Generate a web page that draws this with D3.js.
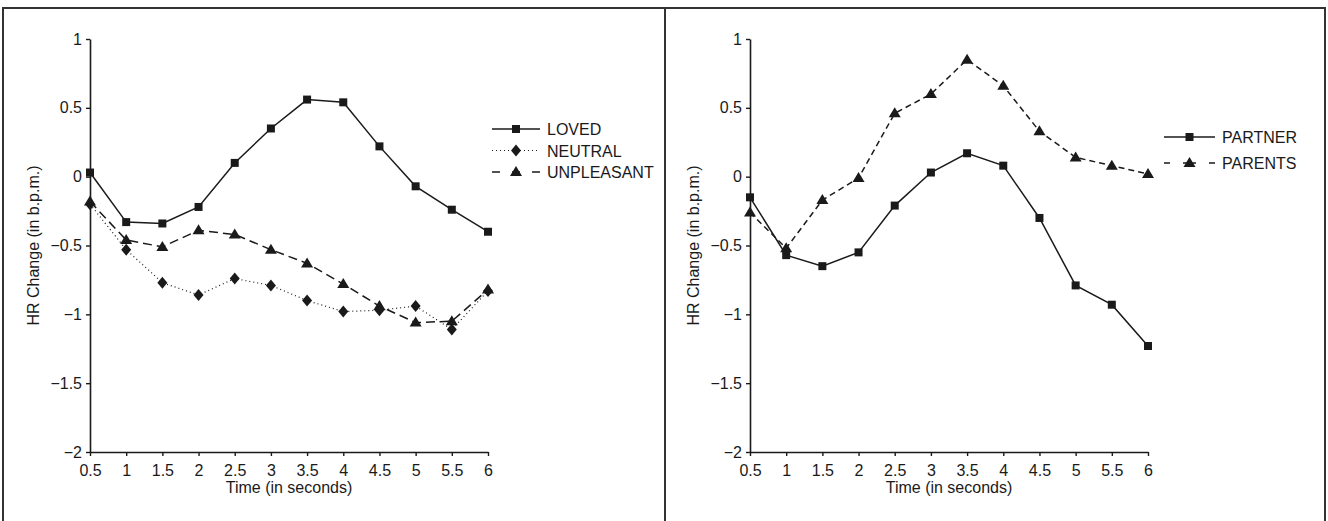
<!DOCTYPE html>
<html>
<head>
<meta charset="utf-8">
<script src="https://cdn.jsdelivr.net/npm/d3@7"></script>
<style>
  body { margin: 0; background: #fff; }
  text { font-family: "Liberation Sans", Arial, sans-serif; fill: #1a1a1a; }
</style>
</head>
<body>
<svg id="chart" width="1328" height="521"></svg>
<script>
// time points (seconds)
var times = [0.5, 1, 1.5, 2, 2.5, 3, 3.5, 4, 4.5, 5, 5.5, 6];
var xTicks = [0.5, 1, 1.5, 2, 2.5, 3, 3.5, 4, 4.5, 5, 5.5, 6];
var yTicks = [1, 0.5, 0, -0.5, -1, -1.5, -2];

// left panel
var loved      = [0.03, -0.33, -0.34, -0.22, 0.10, 0.35, 0.56, 0.54, 0.22, -0.07, -0.24, -0.40];
var neutral    = [-0.20, -0.53, -0.77, -0.86, -0.74, -0.79, -0.90, -0.98, -0.97, -0.94, -1.11, -0.83];
var unpleasant = [-0.18, -0.46, -0.51, -0.39, -0.42, -0.53, -0.63, -0.78, -0.94, -1.06, -1.05, -0.82];

// right panel
var partner = [-0.15, -0.57, -0.65, -0.55, -0.21, 0.03, 0.17, 0.08, -0.30, -0.79, -0.93, -1.23];
var parents = [-0.26, -0.52, -0.17, -0.01, 0.46, 0.60, 0.85, 0.66, 0.33, 0.14, 0.08, 0.02];

var svg = d3.select("#chart");
var ink = "#1a1a1a";
var fs = 16;

// frame
svg.append("line").attr("x1", 3).attr("x2", 1326).attr("y1", 8).attr("y2", 8)
  .attr("stroke", "#333").attr("stroke-width", 2);
[3, 665, 1325].forEach(function (x) {
  svg.append("line").attr("x1", x).attr("x2", x).attr("y1", 7).attr("y2", 521)
    .attr("stroke", "#333").attr("stroke-width", 2);
});

function marker(g, shape, x, y) {
  if (shape === "square") {
    g.append("rect").attr("x", x - 4).attr("y", y - 4).attr("width", 8).attr("height", 8)
      .attr("fill", ink);
  } else if (shape === "diamond") {
    g.append("path").attr("d", `M${x},${y - 6}L${x + 5},${y}L${x},${y + 6}L${x - 5},${y}Z`)
      .attr("fill", ink);
  } else {
    g.append("path").attr("d", `M${x},${y - 6}L${x + 6},${y + 4}L${x - 6},${y + 4}Z`)
      .attr("fill", ink);
  }
}

function drawPanel(ox, series, legend) {
  var x = d3.scaleLinear().domain([0.5, 6]).range([ox, ox + 398]);
  var y = d3.scaleLinear().domain([-2, 1]).range([452, 39]);
  var g = svg.append("g");

  var xAxis = g.append("g").attr("transform", "translate(0,452)")
    .call(d3.axisBottom(x).tickValues(xTicks).tickSize(4).tickSizeOuter(0)
      .tickFormat(d3.format("")));
  var yAxis = g.append("g").attr("transform", `translate(${ox},0)`)
    .call(d3.axisLeft(y).tickValues(yTicks).tickSize(4).tickSizeOuter(0)
      .tickFormat(function (d) { return d < 0 ? "\u2212" + Math.abs(d) : d; }));
  [xAxis, yAxis].forEach(function (a) {
    a.select(".domain").attr("stroke", ink).attr("stroke-width", 1.6);
    a.selectAll(".tick line").attr("stroke", ink).attr("stroke-width", 1.4);
    a.selectAll("text").attr("font-size", fs).attr("fill", ink)
      .attr("font-family", "Liberation Sans, Arial, sans-serif");
  });
  xAxis.selectAll("text").attr("y", 12.5);
  yAxis.selectAll("text").attr("x", -8);

  g.append("text").attr("x", x(3.25)).attr("y", 493).attr("text-anchor", "middle")
    .attr("font-size", fs).text("Time (in seconds)");
  g.append("text").attr("transform", `translate(${ox - 51},${y(-0.5)}) rotate(-90)`)
    .attr("text-anchor", "middle").attr("font-size", fs).text("HR Change (in b.p.m.)");

  var line = d3.line().x(function (d, i) { return x(times[i]); }).y(function (d) { return y(d); });

  series.forEach(function (s) {
    g.append("path").datum(s.values).attr("d", line).attr("fill", "none")
      .attr("stroke", ink).attr("stroke-width", s.dash === "1,3" ? 1.2 : 1.5)
      .attr("stroke-dasharray", s.dash);
    s.values.forEach(function (v, i) { marker(g, s.shape, x(times[i]), y(v)); });
  });

  // legend
  series.forEach(function (s, i) {
    var ly = legend.y + i * legend.gap;
    g.append("line").attr("x1", legend.x).attr("x2", legend.x + legend.len)
      .attr("y1", ly).attr("y2", ly).attr("stroke", ink)
      .attr("stroke-width", s.dash === "1,3" ? 1.2 : 1.5).attr("stroke-dasharray", s.legendDash);
    marker(g, s.shape, legend.x + legend.len / 2, ly);
    g.append("text").attr("x", legend.x + legend.len + 7).attr("y", ly + 6)
      .attr("font-size", fs).text(s.name);
  });
}

drawPanel(90, [
  { name: "LOVED", values: loved, shape: "square", dash: null, legendDash: null },
  { name: "NEUTRAL", values: neutral, shape: "diamond", dash: "1,3", legendDash: "1,3" },
  { name: "UNPLEASANT", values: unpleasant, shape: "triangle", dash: "9,5", legendDash: "8,12,8,12,8" }
], { x: 492, y: 129, gap: 21.5, len: 48 });

drawPanel(750, [
  { name: "PARTNER", values: partner, shape: "square", dash: null, legendDash: null },
  { name: "PARENTS", values: parents, shape: "triangle", dash: "6,4", legendDash: "6,13,13,13,6" }
], { x: 1164, y: 137, gap: 26, len: 51 });
</script>
</body>
</html>
